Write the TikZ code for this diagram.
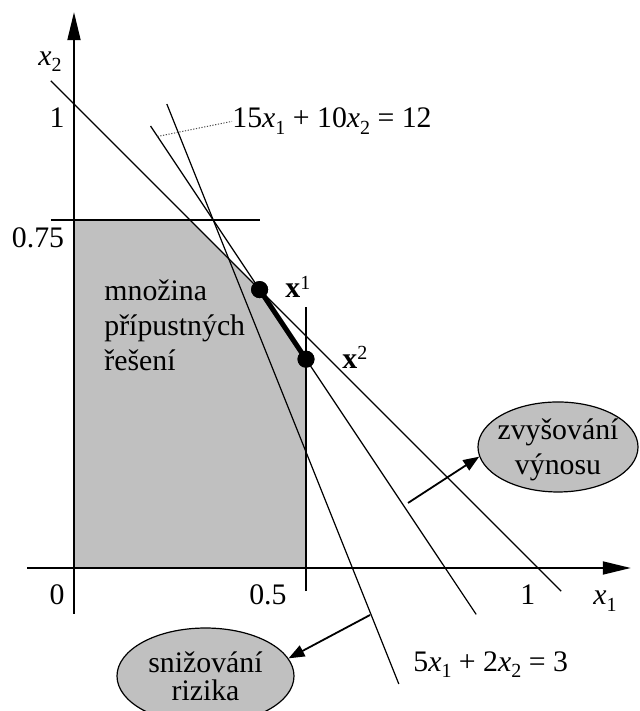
\documentclass[tikz,border=0pt]{standalone}
\usepackage{fontspec}
\setmainfont{Liberation Serif}
\usetikzlibrary{arrows.meta,shapes.geometric}
\definecolor{regiongray}{RGB}{192,192,192}
\newcommand{\mysub}[1]{\raisebox{-0.22em}{\fontsize{10pt}{10pt}\selectfont #1}}
\newcommand{\mysup}[1]{\raisebox{0.3em}{\fontsize{10pt}{10pt}\selectfont #1}}
\newcommand{\xvar}[1]{\textit{x}\mysub{#1}}
\begin{document}
\begin{tikzpicture}[x=232pt,y=232pt,
  every node/.style={font=\fontsize{14.9pt}{17.5pt}\selectfont, inner sep=0pt},
  thinline/.style={line width=0.6pt},
  axisline/.style={line width=0.9pt, -{Triangle[length=14pt,width=6.5pt]}},
  bubble/.style={ellipse, draw, line width=0.6pt, fill=regiongray, inner sep=-5pt, align=center, text depth=0pt},
  pointer/.style={line width=0.9pt, -{Triangle[length=8pt,width=6pt]}},
  dot/.style={circle, fill=black, minimum size=8.5pt, inner sep=0pt},
  leader/.style={line width=0.5pt, dash pattern=on 0.6pt off 0.8pt, black!70}
]
\useasboundingbox (-0.159483,-0.308190) rectangle (1.217672,1.224138);
% feasible region
\fill[regiongray] (0,0) -- (0.5,0) -- (0.5,0.45) -- (0.4,0.6) -- (0.25,0.75) -- (0,0.75) -- cycle;
% constraint and objective lines
\coordinate (s1a) at (-0.05,1.05);  \coordinate (s1b) at (1.05,-0.05);
\coordinate (r1a) at (0.165,0.9525); \coordinate (r1b) at (0.8667,-0.1);
\coordinate (k1a) at (0.2,1.0);     \coordinate (k1b) at (0.7,-0.25);
\coordinate (h1a) at (-0.05,0.75);  \coordinate (h1b) at (0.4,0.75);
\coordinate (v1a) at (0.5,-0.05);   \coordinate (v1b) at (0.5,0.5625);
\draw[thinline] (s1a) -- (s1b);
\draw[thinline] (r1a) -- (r1b);
\draw[thinline] (k1a) -- (k1b);
\draw[thinline] (h1a) -- (h1b);
\draw[thinline] (v1a) -- (v1b);
% axes
\coordinate (xs) at (-0.101,0); \coordinate (xe) at (1.2,0);
\coordinate (ys) at (0,-0.099); \coordinate (ye) at (0,1.198);
\draw[axisline] (xs) -- (xe);
\draw[axisline] (ys) -- (ye);
% optimal segment
\node[dot] (X1) at (0.4,0.6) {};
\node[dot] (X2) at (0.5,0.45) {};
\draw[line width=2.5pt] (X1.center) -- (X2.center);
\node[dot] at (X1.center) {};
\node[dot] at (X2.center) {};
\node[anchor=base west] (lx1) at (0.4547,0.5819) {\textbf{x}\mysup{1}};
\node[anchor=base west] (lx2) at (0.5776,0.431) {\textbf{x}\mysup{2}};
% axis labels
\node[anchor=base] (t0) at (-0.0366,-0.0797) {0};
\node[anchor=base] (t05) at (0.418,-0.0797) {0.5};
\node[anchor=base] (t1) at (0.978,-0.0797) {1};
\node[anchor=base] (tx1) at (1.1444,-0.0797) {\xvar{1}};
\node[anchor=base] (ty1) at (-0.0366,0.950) {1};
\node[anchor=base] (ty75) at (-0.0776,0.6897) {0.75};
\node[anchor=base] (tx2) at (-0.0517,1.084) {\xvar{2}};
% equation labels
\node[anchor=base west] (eq15) at (0.3405,0.9483) {15\xvar{1} + 10\xvar{2} = 12};
\coordinate (p15) at (0.18,0.93);
\draw[leader] (p15) -- (eq15.west);
\node[anchor=base west] (eq5) at (0.7306,-0.222) {5\xvar{1} + 2\xvar{2} = 3};
% region label
\node[anchor=base west, align=left] (feas) at (0.0647,0.4267) {množina\\přípustných\\řešení};
% direction bubbles
\node[bubble, minimum width=80pt, minimum height=45pt] (zvys) at (1.0431,0.2608) {zvyšování\\výnosu};
\node[bubble, minimum width=88.5pt, minimum height=48pt, font=\fontsize{14.9pt}{14pt}\selectfont] (sniz) at (0.2834,-0.2328) {snižování\\rizika};
\coordinate (az) at (0.7198,0.1401);
\coordinate (as) at (0.638,-0.1013);
\draw[pointer] (az) -- (zvys.187);
\draw[pointer] (as) -- (sniz.12);
\end{tikzpicture}
\end{document}
